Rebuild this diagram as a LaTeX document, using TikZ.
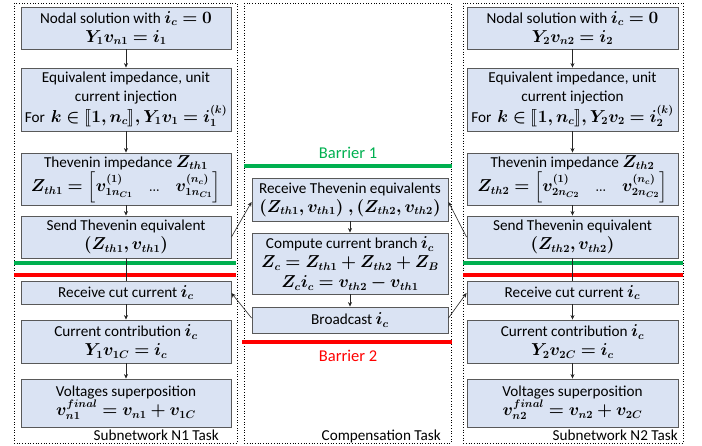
\documentclass[tikz,border=0pt]{standalone}
\usepackage{amsmath}
\usepackage{bm}
\usepackage{stmaryrd}
\usepackage{fontspec}
\setmainfont{Carlito}
\usetikzlibrary{arrows.meta}

\definecolor{boxfill}{HTML}{DAE3F3}
\definecolor{boxline}{HTML}{595959}
\definecolor{bargreen}{HTML}{00B050}
\definecolor{barred}{HTML}{FF0000}

% bold formula, set a little larger than the running text
\newcommand\mb[1]{{\fontsize{16}{19}\selectfont$\bm{#1}$}}

\begin{document}
\begin{tikzpicture}[x=1pt,y=-1pt,
  stepbox/.style={draw=boxline, line width=0.9pt, fill=boxfill, inner sep=0pt,
    align=center, font=\fontsize{15.2}{19}\selectfont},
  lanebox/.style={draw=black, dotted, line width=0.7pt},
  flow/.style={draw=black!85, line width=0.6pt, -{Stealth[length=4.5pt,width=4pt]}},
  link/.style={draw=black!85, line width=0.6pt},
  barrier/.style={line width=3.5pt},
  lanelabel/.style={font=\fontsize{15.2}{17}\selectfont, anchor=base east, inner sep=0pt},
  barlabel/.style={font=\fontsize{16.5}{18}\selectfont, inner sep=0pt}
]
\useasboundingbox (0,0) rectangle (702,445);

% task lanes
\draw[lanebox] (14,3) rectangle (237,443);
\draw[lanebox] (244,3) rectangle (451,443);
\draw[lanebox] (463,3) rectangle (683,443);

% barriers
\draw[barrier, bargreen] (14,263) -- (236,263);
\draw[barrier, bargreen] (244,166) -- (452,166);
\draw[barrier, bargreen] (463,263) -- (683,263);
\draw[barrier, barred] (14,275) -- (236,275);
\draw[barrier, barred] (242,342) -- (452,342);
\draw[barrier, barred] (463,275) -- (683,275);
\node[barlabel, text=bargreen] (b1) at (348,153) {Barrier 1};
\node[barlabel, text=barred] (b2) at (348,356) {Barrier 2};

% subnetwork N1
\node[stepbox, minimum width=210pt, minimum height=42pt] (l1) at (126,28)
  {Nodal solution with \mb{i_c = 0}\\ \mb{Y_1 v_{n1} = i_1}};
\node[stepbox, minimum width=210pt, minimum height=63pt] (l2) at (126,99.5)
  {Equivalent impedance, unit\\ current injection\\
   For\, \mb{k \in \llbracket 1, n_c \rrbracket, Y_1 v_1 = i_1^{(k)}}};
\node[stepbox, minimum width=210pt, minimum height=52pt] (l3) at (126,179)
  {Thevenin impedance \mb{Z_{th1}}\\[1pt]
   \mb{Z_{th1} = \Bigl[v_{1n_{C1}}^{(1)}\quad{\scriptstyle\ldots}\quad v_{1n_{C1}}^{(n_c)}\Bigr]}};
\node[stepbox, minimum width=210pt, minimum height=42pt] (l4) at (126,237)
  {Send Thevenin equivalent\\ \mb{(Z_{th1}, v_{th1})}};
\node[stepbox, minimum width=210pt, minimum height=23pt] (l5) at (126,292.5)
  {Receive cut current \mb{i_c}};
\node[stepbox, minimum width=210pt, minimum height=43pt] (l6) at (126,341.5)
  {Current contribution \mb{i_c}\\ \mb{Y_1 v_{1C} = i_c}};
\node[stepbox, minimum width=210pt, minimum height=48pt] (l7) at (126,403)
  {Voltages superposition\\ \mb{v_{n1}^{final} = v_{n1} + v_{1C}}};

% subnetwork N2
\node[stepbox, minimum width=211pt, minimum height=42pt] (r1) at (572.5,28)
  {Nodal solution with \mb{i_c = 0}\\ \mb{Y_2 v_{n2} = i_2}};
\node[stepbox, minimum width=211pt, minimum height=63pt] (r2) at (572.5,99.5)
  {Equivalent impedance, unit\\ current injection\\
   For\, \mb{k \in \llbracket 1, n_c \rrbracket, Y_2 v_2 = i_2^{(k)}}};
\node[stepbox, minimum width=211pt, minimum height=52pt] (r3) at (572.5,179)
  {Thevenin impedance \mb{Z_{th2}}\\[1pt]
   \mb{Z_{th2} = \Bigl[v_{2n_{C2}}^{(1)}\quad{\scriptstyle\ldots}\quad v_{2n_{C2}}^{(n_c)}\Bigr]}};
\node[stepbox, minimum width=211pt, minimum height=42pt] (r4) at (572.5,237)
  {Send Thevenin equivalent\\ \mb{(Z_{th2}, v_{th2})}};
\node[stepbox, minimum width=211pt, minimum height=23pt] (r5) at (572.5,292.5)
  {Receive cut current \mb{i_c}};
\node[stepbox, minimum width=211pt, minimum height=43pt] (r6) at (572.5,341.5)
  {Current contribution \mb{i_c}\\ \mb{Y_2 v_{2C} = i_c}};
\node[stepbox, minimum width=211pt, minimum height=48pt] (r7) at (572.5,403)
  {Voltages superposition\\ \mb{v_{n2}^{final} = v_{n2} + v_{2C}}};

% compensation
\node[stepbox, minimum width=196pt, minimum height=43pt] (c1) at (350,199.5)
  {Receive Thevenin equivalents\\ \mb{(Z_{th1}, v_{th1})\;,(Z_{th2}, v_{th2})}};
\node[stepbox, minimum width=196pt, minimum height=61pt] (c2) at (350,263.5)
  {Compute current branch \mb{i_c}\\ \mb{Z_c = Z_{th1} + Z_{th2} + Z_B}\\[1pt]
   \mb{Z_c i_c = v_{th2} - v_{th1}}};
\node[stepbox, minimum width=196pt, minimum height=26pt] (c3) at (350,320)
  {Broadcast \mb{i_c}};

% lane captions
\node[lanelabel] (t1) at (219,440) {Subnetwork N1 Task};
\node[lanelabel] (t2) at (441,440) {Compensation Task};
\node[lanelabel] (t3) at (678,440) {Subnetwork N2 Task};

% flow inside each lane
\draw[flow] (l1) -- (l2);
\draw[flow] (l2) -- (l3);
\draw[flow] (l3) -- (l4);
\draw[link] (l4) -- (l5);
\draw[flow] (l5) -- (l6);
\draw[flow] (l6) -- (l7);
\draw[flow] (r1) -- (r2);
\draw[flow] (r2) -- (r3);
\draw[flow] (r3) -- (r4);
\draw[link] (r4) -- (r5);
\draw[flow] (r5) -- (r6);
\draw[flow] (r6) -- (r7);
\draw[flow] (c1) -- (c2);
\draw[flow] (c2) -- (c3);

% exchanges between lanes
\draw[flow] (l4.east |- 0,237) -- (c1.west |- 0,202);
\draw[flow] (r4.west |- 0,237) -- (c1.east |- 0,202);
\draw[flow] (c3.west |- 0,318) -- (l5.east |- 0,293);
\draw[flow] (c3.east |- 0,318) -- (r5.west |- 0,293);
\end{tikzpicture}
\end{document}
